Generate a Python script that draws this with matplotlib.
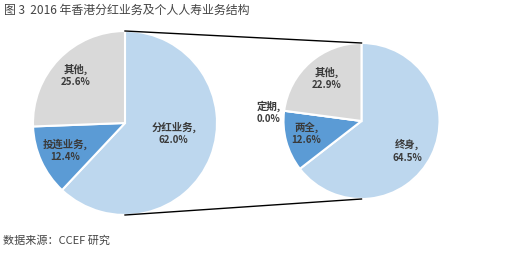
import numpy as np
import matplotlib.pyplot as plt

plt.rcParams['font.family'] = ['Noto Sans CJK SC', 'DejaVu Sans']

# data
left_labels = ['分红业务', '投连业务', '其他']
left_values = [62.0, 12.4, 25.6]
right_labels = ['终身', '两全', '定期', '其他']
right_values = [64.5, 12.6, 0.0, 22.9]

left_colors = ['#BDD7EE', '#5B9BD5', '#D9D9D9']
right_colors = ['#BDD7EE', '#5B9BD5', '#5B9BD5', '#D9D9D9']

# label placement (fraction of radius, extra angle in degrees)
left_place = [(0.54, 10), (0.71, 0), (0.75, 0)]
right_place = [(0.70, -7), (0.72, -3), (1.20, 2), (0.71, -2)]

W, H = 509, 254
fig = plt.figure(figsize=(W / 100, H / 100), dpi=100)
ax = fig.add_axes([0, 0, 1, 1])

text_col = '#3a3a3a'


def draw_pie(values, labels, colors, place, cx, cy, r):
    wedges, _ = ax.pie(values, colors=colors, startangle=90, counterclock=False,
                       center=(cx, cy), radius=r, frame=True,
                       wedgeprops=dict(edgecolor='white', linewidth=1.5))
    for w, lab, val, (d, da) in zip(wedges, labels, values, place):
        ang = np.deg2rad((w.theta1 + w.theta2) / 2 + da)
        x = cx + d * r * np.cos(ang)
        y = cy + d * r * np.sin(ang)
        ax.text(x, y + 6, lab + ',', ha='center', va='center', fontsize=7.5,
                fontweight='bold', color=text_col)
        ax.text(x, y - 7, '%.1f%%' % val, ha='center', va='center', fontsize=7,
                fontweight='bold', color=text_col)


lcx, lcy, lr = 125, H - 123, 92
rcx, rcy, rr = 361.5, H - 121, 78

# connector lines
ax.plot([lcx, rcx], [lcy + lr, rcy + rr], color='black', lw=1)
ax.plot([lcx, rcx], [lcy - lr, rcy - rr], color='black', lw=1)

draw_pie(left_values, left_labels, left_colors, left_place, lcx, lcy, lr)
draw_pie(right_values, right_labels, right_colors, right_place, rcx, rcy, rr)

ax.set_xlim(0, W)
ax.set_ylim(0, H)
ax.set_aspect('equal')
ax.axis('off')

fig.text(4 / W, 1 - 10 / H, '图 3  2016 年香港分红业务及个人人寿业务结构', ha='left',
         va='center', fontsize=8.6, color='#444444')
fig.text(3 / W, 1 - 241 / H, '数据来源：CCEF 研究', ha='left', va='center',
         fontsize=8, color='#444444')

fig.savefig('out.png', dpi=100)
